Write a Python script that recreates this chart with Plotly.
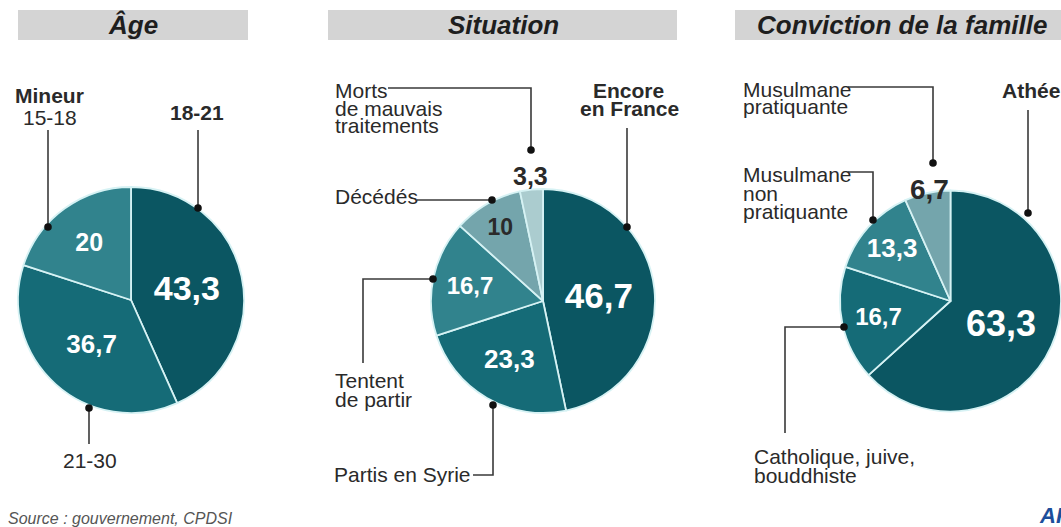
import plotly.graph_objects as go

W, H = 1061, 527

# ---- data ----
age_labels = ["18-21", "21-30", "Mineur 15-18"]
age_values = [43.3, 36.7, 20]

sit_labels = ["Encore en France", "Partis en Syrie", "Tentent de partir", "Décédés",
              "Morts de mauvais traitements"]
sit_values = [46.7, 23.3, 16.7, 10, 3.3]

conv_labels = ["Athée", "Catholique, juive, bouddhiste", "Musulmane non pratiquante",
               "Musulmane pratiquante"]
conv_values = [63.3, 16.7, 13.3, 6.7]

titles = ["Âge", "Situation", "Conviction de la famille"]
source_text = "Source : gouvernement, CPDSI"

# ---- style ----
DARK = "#0b5662"
MED = "#156b77"
LIGHT = "#31838d"
PALE = "#74a5ac"
PALEST = "#abcccf"
SEP = "#d6f2f4"
INK = "#2a2a2a"
LINE = "#3a3a3a"
FONT = "Liberation Sans, Arial, sans-serif"


def fr(v):
    return ("%g" % v).replace(".", ",")


def px(x, y):
    return x / W, 1 - y / H


def dom(cx, cy, r):
    return dict(x=[max(0, (cx - r) / W), min(1, (cx + r) / W)],
                y=[1 - (cy + r) / H, 1 - (cy - r) / H])


fig = go.Figure()


def add_pie(labels, values, colors, sizes, tcolors, tpos, domain):
    fig.add_trace(go.Pie(
        labels=labels, values=values, text=[fr(v) for v in values],
        textinfo="text", texttemplate="<b>%{text}</b>",
        textposition=tpos, insidetextorientation="horizontal",
        textfont=dict(family=FONT, size=sizes, color=tcolors),
        marker=dict(colors=colors, line=dict(color=SEP, width=1.8)),
        sort=False, direction="clockwise", rotation=0,
        domain=domain, showlegend=False, hoverinfo="label+value",
    ))


add_pie(age_labels, age_values, [DARK, MED, LIGHT], [34, 26, 25],
        ["white"] * 3, ["inside"] * 3, dom(131, 300, 113))
add_pie(sit_labels, sit_values, [DARK, MED, LIGHT, PALE, PALEST], [35, 26, 24, 23, 25],
        ["white", "white", "white", INK, INK],
        ["inside", "inside", "inside", "inside", "none"], dom(543, 301, 112))
add_pie(conv_labels, conv_values, [DARK, MED, LIGHT, PALE], [36, 24, 26, 28],
        ["white", "white", "white", INK],
        ["inside", "inside", "inside", "none"], dom(952, 301, 112))

annotations = []
shapes = []


def ann(text, x, y, size=21, xanchor="left", color=INK):
    ax, ay = px(x, y)
    annotations.append(dict(text=text, x=ax, y=ay, xref="paper", yref="paper",
                            xanchor=xanchor, yanchor="middle", showarrow=False,
                            font=dict(family=FONT, size=size, color=color)))


def path(pts):
    d = "M " + " L ".join("%.5f,%.5f" % px(x, y) for x, y in pts)
    shapes.append(dict(type="path", path=d, xref="paper", yref="paper",
                       line=dict(color=LINE, width=1.6)))


def dot(x, y, r=3.8):
    x0, y0 = px(x - r, y + r)
    x1, y1 = px(x + r, y - r)
    shapes.append(dict(type="circle", x0=x0, y0=y0, x1=x1, y1=y1, xref="paper",
                       yref="paper", fillcolor="#111111", line=dict(width=0)))


def rect(x0, y0, x1, y1, color):
    a0, b0 = px(x0, y1)
    a1, b1 = px(x1, y0)
    shapes.append(dict(type="rect", x0=a0, y0=b0, x1=a1, y1=b1, xref="paper",
                       yref="paper", fillcolor=color, line=dict(width=0), layer="below"))


# title bars
rect(18, 10, 248, 40, "#d4d4d4")
rect(328, 10, 677, 40, "#d4d4d4")
rect(735, 10, 1075, 40, "#d4d4d4")
ann("<b><i>%s</i></b>" % titles[0], 133, 25, 26, "center", "#1e1e1e")
ann("<b><i>%s</i></b>" % titles[1], 503, 25, 26, "center", "#1e1e1e")
ann("<b><i>%s</i></b>" % titles[2], 902, 25, 26, "center", "#1e1e1e")

# --- Âge labels ---
ann("<b>Mineur</b>", 49, 96, 21, "center")
ann("15-18", 50, 117, 21, "center")
path([(48, 130), (48, 227)]); dot(48, 227)
ann("<b>18-21</b>", 197, 113, 21, "center")
path([(198, 130), (198, 208)]); dot(198, 208)
ann("21-30", 90, 460, 21, "center")
path([(89, 408), (89, 444)]); dot(89, 408)

# --- Situation labels ---
ann("Morts", 333, 90)
ann("de mauvais", 333, 108)
ann("traitements", 333, 126)
path([(388, 88), (531, 88), (531, 150)]); dot(531, 150)
ann("<b>%s</b>" % fr(sit_values[4]), 530, 176, 25, "center")
ann("Décédés", 333, 197)
path([(417, 200), (492, 200)]); dot(492, 200)
ann("<b>Encore</b>", 628, 90, 21, "center")
ann("<b>en France</b>", 629, 108, 21, "center")
path([(627, 128), (627, 227)]); dot(627, 227)
ann("Tentent", 333, 380)
ann("de partir", 333, 399)
path([(363, 363), (363, 279), (433, 279)]); dot(433, 279)
ann("Partis en Syrie", 332, 474)
path([(473, 475), (493, 475), (493, 405)]); dot(493, 405)

# --- Conviction labels ---
ann("Musulmane", 741, 89)
ann("pratiquante", 741, 107)
path([(848, 87), (933, 87), (933, 163)]); dot(933, 163)
ann("<b>%s</b>" % fr(conv_values[3]), 929, 189, 28, "center")
ann("Musulmane", 741, 175)
ann("non", 741, 193)
ann("pratiquante", 741, 211)
path([(848, 172), (873, 172), (873, 220)]); dot(873, 220)
ann("<b>Athée</b>", 1031, 90, 21, "center")
path([(1028, 110), (1028, 213)]); dot(1028, 213)
ann("Catholique, juive,", 752, 456)
ann("bouddhiste", 752, 475)
path([(785, 433), (785, 327), (844, 327)]); dot(844, 327)

# footer
ann("<i>%s</i>" % source_text, 6, 518, 16, "left", "#555555")
ann("<b><i>AFP</i></b>", 1037, 515, 22, "left", "#1c4e9b")

fig.update_layout(width=W, height=H, margin=dict(l=0, r=0, t=0, b=0),
                  paper_bgcolor="white", plot_bgcolor="white",
                  annotations=annotations, shapes=shapes,
                  font=dict(family=FONT, color=INK))

fig.write_html("out.html", config={"displayModeBar": False},
               post_script="document.body.style.margin='0px';"
                           "document.body.style.overflow='hidden';")
